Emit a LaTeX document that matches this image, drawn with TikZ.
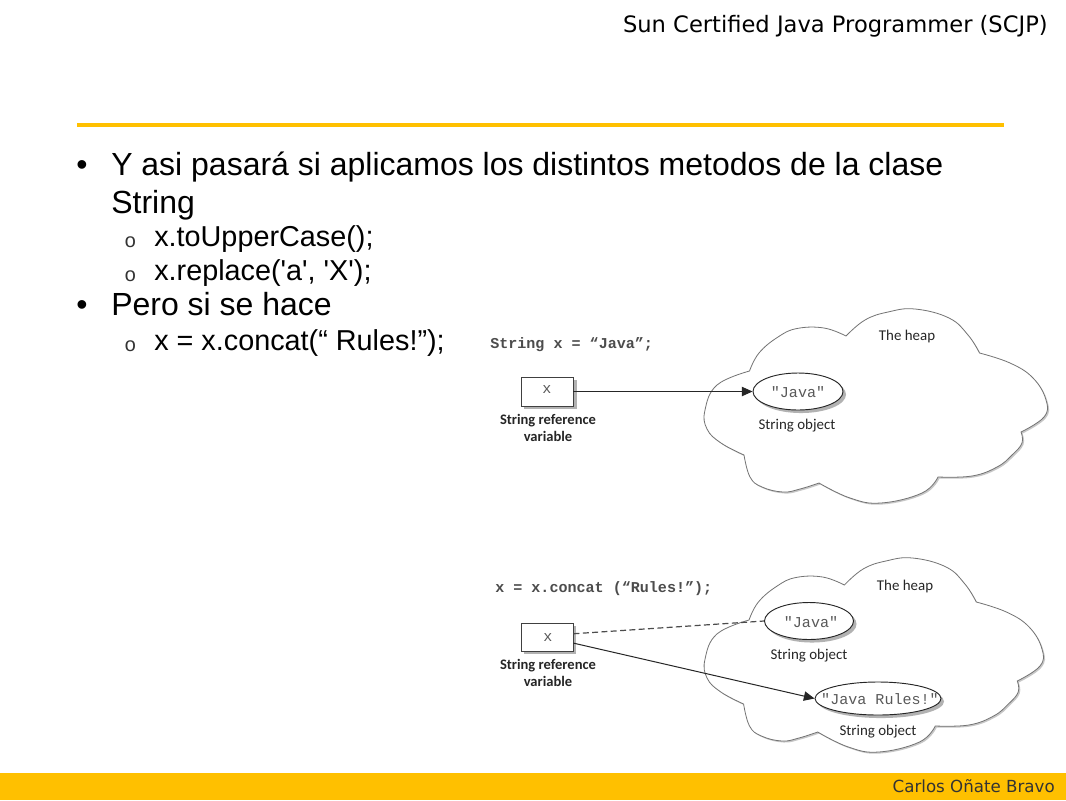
\documentclass[tikz,border=0pt]{standalone}
\usepackage{fontspec}
\setmainfont{Liberation Sans}
\newfontfamily\plainfont{Liberation Sans}
\newfontfamily\headfont{DejaVu Sans}
\newfontfamily\codefont{Liberation Mono}
\newfontfamily\labelfont{Carlito}
\usetikzlibrary{shapes.geometric,arrows.meta}
\definecolor{gold}{HTML}{FFC000}
\tikzset{
 txt/.style={inner sep=0pt,anchor=base west,text=black},
 mainline/.style={txt,font=\fontsize{24}{24}\selectfont},
 subline/.style={txt,font=\fontsize{21.6}{24}\selectfont},
 subo/.style={txt,font=\codefont\fontsize{15}{15}\selectfont,text=black!80},
 codetxt/.style={inner sep=0pt,anchor=base west,font=\codefont\bfseries\fontsize{11.3}{12}\selectfont,text=black!70},
 objtxt/.style={inner sep=0pt,font=\codefont\fontsize{11.3}{12}\selectfont,text=black!65},
 vartxt/.style={inner sep=0pt,font=\codefont\fontsize{11.3}{12}\selectfont,text=black!65},
 lbl/.style={inner sep=0pt,align=center,font=\labelfont\bfseries\fontsize{10.9}{12.8}\selectfont,text=black!85},
 lblb/.style={inner sep=0pt,align=center,font=\labelfont\fontsize{11.2}{12}\selectfont,text=black!85},
 cloudline/.style={draw=black!55,line width=0.6pt,fill=white},
 cloudshade/.style={fill=black!22},
 softshade/.style={fill=black!30},
 obj/.style={ellipse,draw=black!85,line width=0.7pt,fill=white,inner sep=0pt},
 var/.style={rectangle,draw=black!75,line width=0.7pt,fill=white,inner sep=0pt,minimum width=39pt},
 ref/.style={draw=black!85,line width=0.75pt,-{Triangle[length=8pt,width=7pt]}},
 oldref/.style={draw=black!70,line width=0.9pt,dash pattern=on 4.5pt off 2.5pt}
}
\newcommand{\heapcloud}{
 (749.5,371)
 -- plot[smooth,tension=0.7] coordinates {(749.5,371) (759,353) (778,337) (797,328.5) (824,328) (846,336)}
 -- plot[smooth,tension=0.7] coordinates {(846,336) (865,320) (888,312) (915,309) (949,318) (968,335) (979.5,353)}
 -- plot[smooth,tension=0.7] coordinates {(979.5,353) (1010,363) (1033,378) (1046,400) (1044,417) (1021,432)}
 -- plot[smooth,tension=0.7] coordinates {(1021,432) (1022,443) (1012,455) (997,467) (972,476) (938,477)}
 -- plot[smooth,tension=0.7] coordinates {(938,477) (922,493) (881,503) (850,498) (819,483)}
 -- plot[smooth,tension=0.7] coordinates {(819,483) (800,489) (783,492) (762,487) (750,477) (744,455)}
 -- plot[smooth,tension=0.7] coordinates {(744,455) (721,443) (707,429) (705,410) (717,385) (749.5,371)}
 -- cycle}
\begin{document}
\begin{tikzpicture}[x=0.75pt,y=-0.75pt]
\useasboundingbox (0,0) rectangle (1066,800);
\fill[white] (0,0) rectangle (1066,800);
% chrome
\node[inner sep=0pt,anchor=base east,font=\headfont\fontsize{16.95}{17}\selectfont] (title) at (1048,32) {Sun Certified Java Programmer (SCJP)};
\fill[gold] (77,122.7) rectangle (1004,127.3);
\fill[gold] (0,773) rectangle (1066,800);
\node[inner sep=0pt,anchor=base east,font=\headfont\fontsize{12.5}{13}\selectfont,text=black!80] (author) at (1055,792) {Carlos Oñate Bravo};
% text
\node[mainline] (b1) at (76,175.5) {•};
\node[mainline] (l1) at (111,175.5) {\makebox[624pt][s]{Y asi pasará si aplicamos los distintos metodos de la clase}};
\node[mainline] (l2) at (111,213) {String};
\node[subo] (o1) at (124,247) {o};
\node[subline] (s1) at (154,246) {x.toUpperCase();};
\node[subo] (o2) at (124,281) {o};
\node[subline] (s2) at (154,280) {\plainfont x.replace('a', 'X');};
\node[mainline] (b2) at (76,315) {•};
\node[mainline] (l3) at (111,315) {Pero si se hace};
\node[subo] (o3) at (124,351) {o};
\node[subline] (s3) at (154,350) {x = x.concat(“ Rules!”);};
% top diagram
\path[cloudshade,shift={(1.5,1.5)}] \heapcloud;
\draw[cloudline] \heapcloud;
\node[codetxt] (c1) at (490,348) {String x = “Java”;};
\fill[softshade] (524,380) rectangle (577,409);
\node[var,minimum height=21.75pt] (x1) at (547,391.5) {};
\node[vartxt] (xt1) at (547,390) {x};
\node[lbl] (v1) at (548,428) {String reference\\variable};
\fill[softshade] (801,394.5) ellipse (33.75pt and 13.9pt);
\node[obj,minimum width=67.5pt,minimum height=27.75pt] (j1) at (798,391.5) {};
\node[objtxt] (jt1) at (798,392) {"Java"};
\node[lblb] (o1t) at (797,426) {String object};
\node[lblb] (h1) at (907,337) {The heap};
\draw[ref] (x1) -- (j1);
% bottom diagram
\begin{scope}[shift={(8.5,249)},xscale=0.988]
\path[cloudshade,shift={(1.5,1.5)}] \heapcloud;
\draw[cloudline] \heapcloud;
\end{scope}
\node[codetxt] (c2) at (495,592) {x = x.concat (“Rules!”);};
\fill[softshade] (524,626) rectangle (576,654);
\node[var,minimum height=21pt] (x2) at (547,637) {};
\node[vartxt] (xt2) at (548,638) {x};
\node[lbl] (v2) at (548,673) {String reference\\variable};
\fill[softshade] (812,624) ellipse (33.4pt and 13.9pt);
\node[obj,minimum width=66.75pt,minimum height=27.75pt] (j2) at (809,621) {};
\node[objtxt] (jt2) at (811,622) {"Java"};
\node[lblb] (o2t) at (809,656) {String object};
\fill[softshade] (881,701.5) ellipse (47.25pt and 12.4pt);
\node[obj,minimum width=94.5pt,minimum height=24.75pt] (r2) at (878,698.5) {};
\node[objtxt] (rt2) at (880,699) {"Java Rules!"};
\node[lblb] (o3t) at (878,732) {String object};
\node[lblb] (h2) at (905,587) {The heap};
\draw[oldref] (x2.7) -- (j2.west);
\draw[ref] (x2.-13) -- (r2.west);
\end{tikzpicture}
\end{document}
